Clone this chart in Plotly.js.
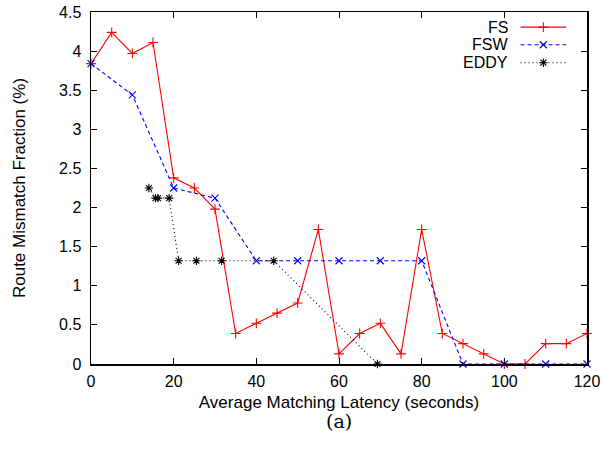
<!DOCTYPE html>
<html><head><meta charset="utf-8">
<script src="https://cdn.plot.ly/plotly-3.0.1.min.js"></script>
<style>html,body{margin:0;padding:0;background:#fff}#c{width:603px;height:455px}</style>
</head><body><div id="c"></div>
<script>
const fsX = [0,5,10,15,20,25,30,35,40,45,50,55,60,65,70,75,80,85,90,95,100,105,110,115,120];
const fsY = [3.84,4.24,3.97,4.11,2.38,2.25,1.98,0.39,0.52,0.65,0.78,1.72,0.13,0.39,0.52,0.13,1.72,0.39,0.26,0.13,0,0,0.26,0.26,0.39];
const fswX = [0,10,20,30,40,50,60,70,80,90,100,110,120];
const fswY = [3.84,3.44,2.25,2.12,1.32,1.32,1.32,1.32,1.32,0,0,0,0];
const eddyX = [14,15.6,16.2,18.9,21.2,25.5,31.6,44.2,69.3];
const eddyY = [2.25,2.12,2.12,2.12,1.32,1.32,1.32,1.32,0];
const names = ['FS','FSW','EDDY'];
const colors = ['#ff0000','#0000ff','#000000'];
const dashes = ['solid','4px,3px','1px,3px'];
const symbols = ['cross-thin-open','x-thin-open','asterisk-open'];
const xTicks = [0,20,40,60,80,100,120];
const yTicks = [0,0.5,1,1.5,2,2.5,3,3.5,4,4.5];

const series = [[fsX,fsY],[fswX,fswY],[eddyX,eddyY]];
const traces = series.map((s,i)=>({
  x:s[0], y:s[1], type:'scatter', mode:'lines+markers', name:names[i],
  line:{color:colors[i], width:1.1, dash:dashes[i]},
  marker:{symbol:symbols[i], size:7, color:colors[i], line:{color:colors[i], width:1.1}},
  showlegend:false, cliponaxis:false
}));
// legend samples on an overlay axis in [0,1]
const legY = [0.957,0.907,0.856];
names.forEach((n,i)=>{
  traces.push({x:[0.866,0.912,0.958], y:[legY[i],legY[i],legY[i]], xaxis:'x2', yaxis:'y2',
    type:'scatter', mode:'lines', line:{color:colors[i], width:1.1, dash:dashes[i]}, showlegend:false, hoverinfo:'skip'});
  traces.push({x:[0.912], y:[legY[i]], xaxis:'x2', yaxis:'y2', type:'scatter', mode:'markers',
    marker:{symbol:symbols[i], size:7, color:colors[i], line:{color:colors[i], width:1.1}}, showlegend:false, hoverinfo:'skip'});
});
const ann = names.map((n,i)=>({xref:'x2', yref:'y2', x:0.845, y:legY[i], text:n, showarrow:false,
  xanchor:'right', yanchor:'middle', font:{family:'Liberation Sans, Arial, sans-serif', size:16, color:'#000'}}));
ann.push({xref:'paper', yref:'paper', x:0.5, y:-0.162, text:'(a)', showarrow:false, xanchor:'center', yanchor:'middle',
  font:{family:'DejaVu Serif, Liberation Serif, serif', size:19, color:'#000'}});

const axFont = {family:'Liberation Sans, Arial, sans-serif', size:16, color:'#000'};
const layout = {
  width:603, height:455,
  margin:{l:91, r:16, t:12, b:91},
  paper_bgcolor:'#fff', plot_bgcolor:'#fff',
  font:axFont,
  xaxis:{range:[0,120], tickvals:xTicks, ticks:'inside', ticklen:6, tickcolor:'#000', showgrid:false, zeroline:false,
    showline:true, linecolor:'#000', linewidth:1.5, mirror:'ticks', tickfont:axFont, ticklabelstandoff:2,
    title:{text:'Average Matching Latency (seconds)', font:{family:'Liberation Sans, Arial, sans-serif', size:17}, standoff:7}},
  yaxis:{range:[0,4.5], tickvals:yTicks, ticktext:yTicks.map(String), ticks:'inside', ticklen:6, tickcolor:'#000', showgrid:false, zeroline:false,
    showline:true, linecolor:'#000', linewidth:1.5, mirror:'ticks', tickfont:axFont, ticklabelstandoff:5,
    title:{text:'Route Mismatch Fraction (%)', font:{family:'Liberation Sans, Arial, sans-serif', size:17}, standoff:29}},
  xaxis2:{overlaying:'x', range:[0,1], visible:false, fixedrange:true},
  yaxis2:{overlaying:'y', range:[0,1], visible:false, fixedrange:true},
  annotations:ann
};
Plotly.newPlot('c', traces, layout, {displayModeBar:false, staticPlot:true});
</script></body></html>
